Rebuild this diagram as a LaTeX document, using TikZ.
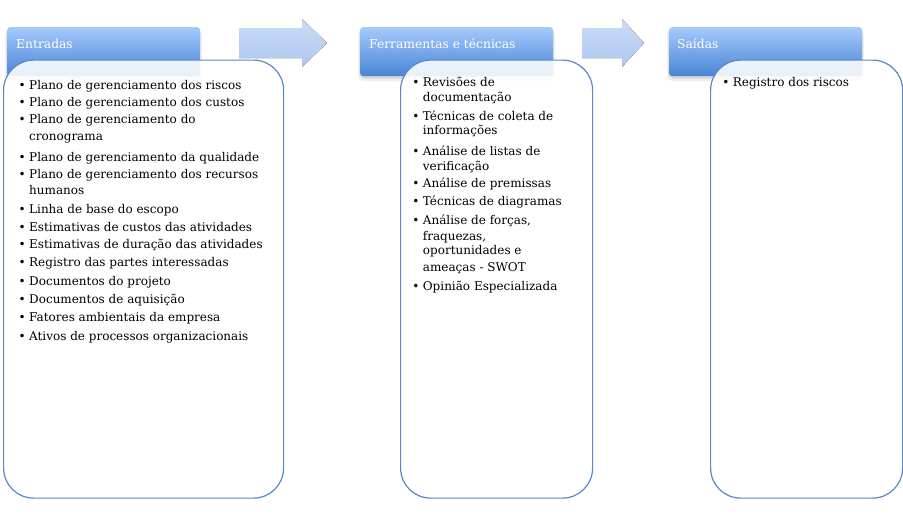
\documentclass[tikz,border=0pt]{standalone}
\usepackage{fontspec}
\setmainfont{DejaVu Serif}
\definecolor{hdrtop}{HTML}{A5C9FB}
\definecolor{hdrbot}{HTML}{4A84D6}
\definecolor{boxline}{HTML}{5B87C6}
\definecolor{arrtop}{HTML}{CADBF6}
\definecolor{arrbot}{HTML}{AFC7EF}
\newcommand{\itemfont}{\fontsize{12}{14}\selectfont}
\newcommand{\hdrfont}{\fontsize{12.3}{14}\selectfont}
\newcommand{\bul}{\llap{\textbullet\hspace{3.4pt}}}
\begin{document}
\begin{tikzpicture}[x=1pt,y=-1pt,
  hdr/.style={rounded corners=3pt, top color=hdrtop, bottom color=hdrbot, draw=none, inner sep=0pt, anchor=north west, minimum width=193pt, minimum height=49pt},
  hdrshadow/.style={fill=black, opacity=0.06, rounded corners=5pt},
  hdrtext/.style={anchor=base west, inner sep=0pt, text=white, font=\hdrfont},
  cbox/.style={draw=boxline, line width=1.2pt, rounded corners=30pt, fill=white, fill opacity=0.88, inner sep=0pt, anchor=north west, minimum width=280pt, minimum height=438pt},
  cboxn/.style={cbox, minimum width=192pt},
  itemtxt/.style={anchor=base west, inner sep=0pt, font=\itemfont, text=black},
  blockarrow/.style={top color=arrtop, bottom color=arrbot, draw=none}
]
\useasboundingbox (0,0) rectangle (903,525);

% block arrows
\fill[blockarrow] (239,28) -- (302,28) -- (302,19) -- (327,43) -- (302,67) -- (302,58) -- (239,58) -- cycle;
\fill[blockarrow] (582,28) -- (622,28) -- (622,19) -- (644,43) -- (622,67) -- (622,58) -- (582,58) -- cycle;

% header shadows
\foreach \hx in {7,360,669}{
  \fill[hdrshadow] (\hx-2,29) rectangle (\hx+195,81);
  \fill[hdrshadow] (\hx-1,29) rectangle (\hx+194,79);
  \fill[hdrshadow] (\hx,29) rectangle (\hx+193,78);
}

% headers
\node[hdr] (h1) at (7,27) {};
\node[hdr] (h2) at (360,27) {};
\node[hdr] (h3) at (669,27) {};
\node[hdrtext] (h1t) at (16,48.3) {Entradas};
\node[hdrtext] (h2t) at (369,48.3) {Ferramentas e técnicas};
\node[hdrtext] (h3t) at (677,48.3) {Saídas};

% content boxes
\node[cbox] (c1) at (3,59.5) {};
\node[cboxn] (c2) at (400,59.5) {};
\node[cboxn] (c3) at (710,59.5) {};

% box 1 items
\node[itemtxt] (a1) at (29,89.5) {\bul Plano de gerenciamento dos riscos};
\node[itemtxt] (a2) at (29,106) {\bul Plano de gerenciamento dos custos};
\node[itemtxt] (a3) at (29,123) {\bul Plano de gerenciamento do};
\node[itemtxt] (a3b) at (29,140.5) {cronograma};
\node[itemtxt] (a4) at (29,161.5) {\bul Plano de gerenciamento da qualidade};
\node[itemtxt] (a5) at (29,178.3) {\bul Plano de gerenciamento dos recursos};
\node[itemtxt] (a5b) at (29,194.3) {humanos};
\node[itemtxt] (a6) at (29,213.3) {\bul Linha de base do escopo};
\node[itemtxt] (a7) at (29,231.7) {\bul Estimativas de custos das atividades};
\node[itemtxt] (a8) at (29,248) {\bul Estimativas de duração das atividades};
\node[itemtxt] (a9) at (29,266) {\bul Registro das partes interessadas};
\node[itemtxt] (a10) at (29,285) {\bul Documentos do projeto};
\node[itemtxt] (a11) at (29,303.3) {\bul Documentos de aquisição};
\node[itemtxt] (a12) at (29,321.7) {\bul Fatores ambientais da empresa};
\node[itemtxt] (a13) at (29,340) {\bul Ativos de processos organizacionais};

% box 2 items
\node[itemtxt] (b1) at (422.7,86.7) {\bul Revisões de};
\node[itemtxt] (b1b) at (422.7,101.7) {documentação};
\node[itemtxt] (b2) at (422.7,120) {\bul Técnicas de coleta de};
\node[itemtxt] (b2b) at (422.7,134.3) {informações};
\node[itemtxt] (b3) at (422.7,155) {\bul Análise de listas de};
\node[itemtxt] (b3b) at (422.7,170) {verificação};
\node[itemtxt] (b4) at (422.7,187.3) {\bul Análise de premissas};
\node[itemtxt] (b5) at (422.7,205) {\bul Técnicas de diagramas};
\node[itemtxt] (b6) at (422.7,224) {\bul Análise de forças,};
\node[itemtxt] (b6b) at (422.7,240.7) {fraquezas,};
\node[itemtxt] (b6c) at (422.7,254.3) {oportunidades e};
\node[itemtxt] (b6d) at (422.7,271) {ameaças - SWOT};
\node[itemtxt] (b7) at (422.7,290) {\bul Opinião Especializada};

% box 3 items
\node[itemtxt] (s1) at (732.7,86.7) {\bul Registro dos riscos};
\end{tikzpicture}
\end{document}
